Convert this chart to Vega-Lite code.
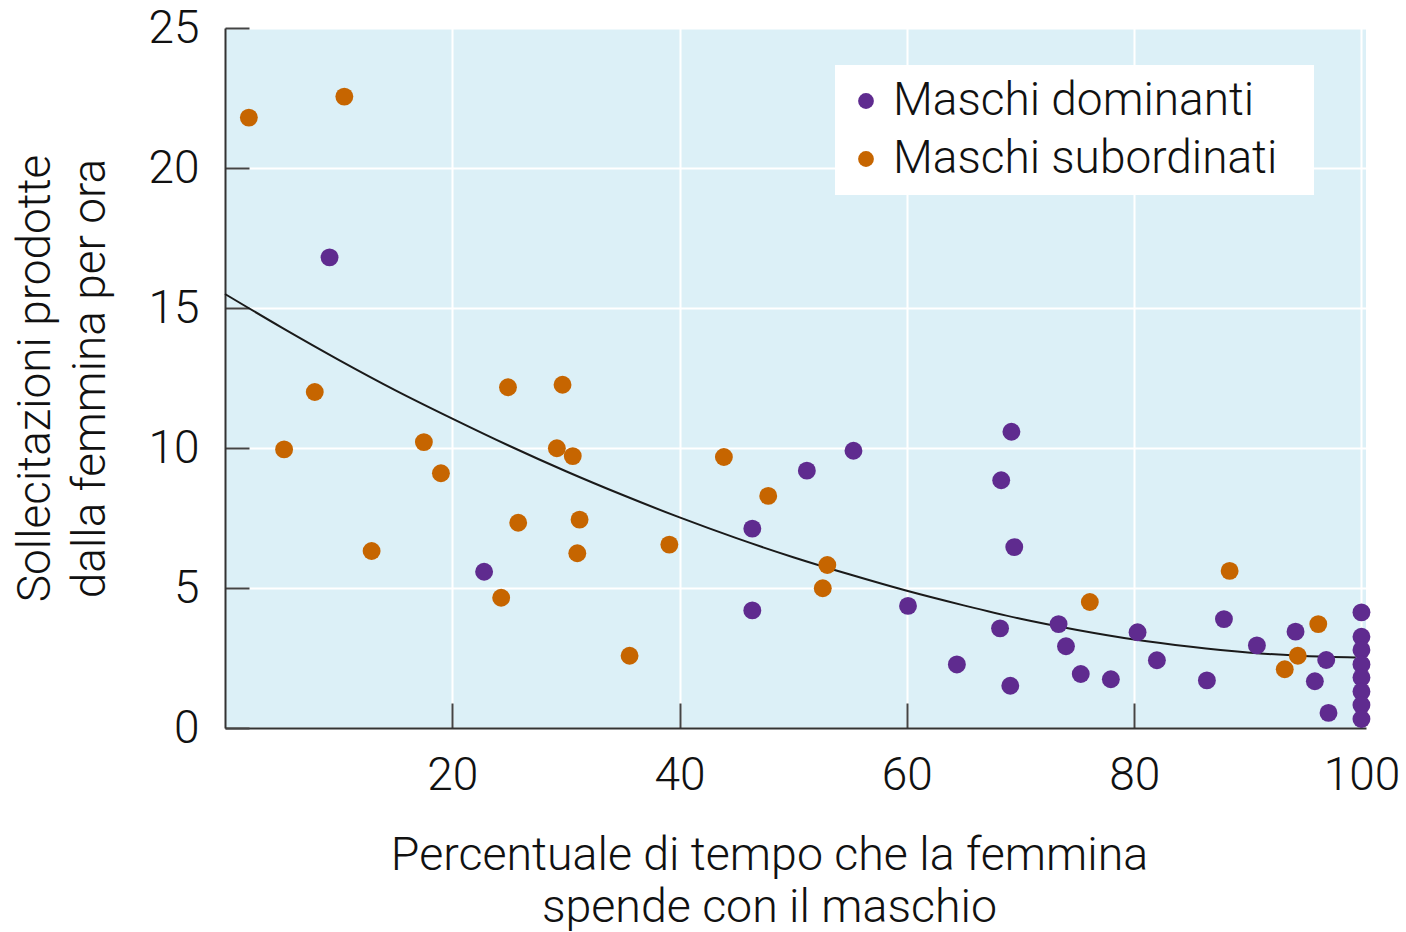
{
  "$schema": "https://vega.github.io/schema/vega-lite/v6.json",
  "width": 1141,
  "height": 700,
  "autosize": {"type": "none"},
  "padding": {"left": 225, "top": 28, "right": 40, "bottom": 204},
  "background": "#ffffff",
  "datasets": {
    "punti": [
      {"tempo": 2.1, "sollecitazioni": 21.8, "gruppo": "Maschi subordinati"},
      {"tempo": 10.5, "sollecitazioni": 22.55, "gruppo": "Maschi subordinati"},
      {"tempo": 7.9, "sollecitazioni": 12.0, "gruppo": "Maschi subordinati"},
      {"tempo": 5.2, "sollecitazioni": 9.95, "gruppo": "Maschi subordinati"},
      {"tempo": 24.9, "sollecitazioni": 12.17, "gruppo": "Maschi subordinati"},
      {"tempo": 29.7, "sollecitazioni": 12.26, "gruppo": "Maschi subordinati"},
      {"tempo": 17.5, "sollecitazioni": 10.21, "gruppo": "Maschi subordinati"},
      {"tempo": 19.0, "sollecitazioni": 9.1, "gruppo": "Maschi subordinati"},
      {"tempo": 29.2, "sollecitazioni": 9.99, "gruppo": "Maschi subordinati"},
      {"tempo": 30.6, "sollecitazioni": 9.71, "gruppo": "Maschi subordinati"},
      {"tempo": 25.8, "sollecitazioni": 7.33, "gruppo": "Maschi subordinati"},
      {"tempo": 31.2, "sollecitazioni": 7.44, "gruppo": "Maschi subordinati"},
      {"tempo": 31.0, "sollecitazioni": 6.24, "gruppo": "Maschi subordinati"},
      {"tempo": 12.9, "sollecitazioni": 6.32, "gruppo": "Maschi subordinati"},
      {"tempo": 24.3, "sollecitazioni": 4.65, "gruppo": "Maschi subordinati"},
      {"tempo": 35.6, "sollecitazioni": 2.58, "gruppo": "Maschi subordinati"},
      {"tempo": 39.1, "sollecitazioni": 6.55, "gruppo": "Maschi subordinati"},
      {"tempo": 43.9, "sollecitazioni": 9.68, "gruppo": "Maschi subordinati"},
      {"tempo": 47.8, "sollecitazioni": 8.29, "gruppo": "Maschi subordinati"},
      {"tempo": 53.0, "sollecitazioni": 5.82, "gruppo": "Maschi subordinati"},
      {"tempo": 52.6, "sollecitazioni": 4.99, "gruppo": "Maschi subordinati"},
      {"tempo": 76.1, "sollecitazioni": 4.5, "gruppo": "Maschi subordinati"},
      {"tempo": 88.4, "sollecitazioni": 5.61, "gruppo": "Maschi subordinati"},
      {"tempo": 96.2, "sollecitazioni": 3.71, "gruppo": "Maschi subordinati"},
      {"tempo": 94.4, "sollecitazioni": 2.58, "gruppo": "Maschi subordinati"},
      {"tempo": 93.25, "sollecitazioni": 2.1, "gruppo": "Maschi subordinati"},
      {"tempo": 9.2, "sollecitazioni": 16.81, "gruppo": "Maschi dominanti"},
      {"tempo": 22.8, "sollecitazioni": 5.58, "gruppo": "Maschi dominanti"},
      {"tempo": 51.2, "sollecitazioni": 9.19, "gruppo": "Maschi dominanti"},
      {"tempo": 55.3, "sollecitazioni": 9.9, "gruppo": "Maschi dominanti"},
      {"tempo": 46.4, "sollecitazioni": 7.12, "gruppo": "Maschi dominanti"},
      {"tempo": 46.4, "sollecitazioni": 4.2, "gruppo": "Maschi dominanti"},
      {"tempo": 60.1, "sollecitazioni": 4.36, "gruppo": "Maschi dominanti"},
      {"tempo": 69.2, "sollecitazioni": 10.58, "gruppo": "Maschi dominanti"},
      {"tempo": 68.3, "sollecitazioni": 8.85, "gruppo": "Maschi dominanti"},
      {"tempo": 69.45, "sollecitazioni": 6.46, "gruppo": "Maschi dominanti"},
      {"tempo": 68.2, "sollecitazioni": 3.56, "gruppo": "Maschi dominanti"},
      {"tempo": 64.4, "sollecitazioni": 2.27, "gruppo": "Maschi dominanti"},
      {"tempo": 69.1, "sollecitazioni": 1.51, "gruppo": "Maschi dominanti"},
      {"tempo": 73.35, "sollecitazioni": 3.71, "gruppo": "Maschi dominanti"},
      {"tempo": 74.0, "sollecitazioni": 2.92, "gruppo": "Maschi dominanti"},
      {"tempo": 75.3, "sollecitazioni": 1.93, "gruppo": "Maschi dominanti"},
      {"tempo": 77.95, "sollecitazioni": 1.74, "gruppo": "Maschi dominanti"},
      {"tempo": 80.3, "sollecitazioni": 3.42, "gruppo": "Maschi dominanti"},
      {"tempo": 82.0, "sollecitazioni": 2.42, "gruppo": "Maschi dominanti"},
      {"tempo": 86.4, "sollecitazioni": 1.7, "gruppo": "Maschi dominanti"},
      {"tempo": 87.9, "sollecitazioni": 3.89, "gruppo": "Maschi dominanti"},
      {"tempo": 90.8, "sollecitazioni": 2.95, "gruppo": "Maschi dominanti"},
      {"tempo": 94.2, "sollecitazioni": 3.44, "gruppo": "Maschi dominanti"},
      {"tempo": 96.9, "sollecitazioni": 2.43, "gruppo": "Maschi dominanti"},
      {"tempo": 95.9, "sollecitazioni": 1.67, "gruppo": "Maschi dominanti"},
      {"tempo": 97.1, "sollecitazioni": 0.54, "gruppo": "Maschi dominanti"},
      {"tempo": 100, "sollecitazioni": 4.13, "gruppo": "Maschi dominanti"},
      {"tempo": 100, "sollecitazioni": 3.26, "gruppo": "Maschi dominanti"},
      {"tempo": 100, "sollecitazioni": 2.79, "gruppo": "Maschi dominanti"},
      {"tempo": 100, "sollecitazioni": 2.27, "gruppo": "Maschi dominanti"},
      {"tempo": 100, "sollecitazioni": 1.8, "gruppo": "Maschi dominanti"},
      {"tempo": 100, "sollecitazioni": 1.3, "gruppo": "Maschi dominanti"},
      {"tempo": 100, "sollecitazioni": 0.82, "gruppo": "Maschi dominanti"},
      {"tempo": 100, "sollecitazioni": 0.32, "gruppo": "Maschi dominanti"}
    ],
    "curva": [
      {"tempo": 0, "sollecitazioni": 15.5},
      {"tempo": 5, "sollecitazioni": 14.3},
      {"tempo": 10, "sollecitazioni": 13.15},
      {"tempo": 15, "sollecitazioni": 12.06},
      {"tempo": 20, "sollecitazioni": 11.05},
      {"tempo": 25, "sollecitazioni": 10.08},
      {"tempo": 30, "sollecitazioni": 9.17},
      {"tempo": 35, "sollecitazioni": 8.32},
      {"tempo": 40, "sollecitazioni": 7.52},
      {"tempo": 45, "sollecitazioni": 6.78},
      {"tempo": 50, "sollecitazioni": 6.1},
      {"tempo": 55, "sollecitazioni": 5.48},
      {"tempo": 60, "sollecitazioni": 4.9},
      {"tempo": 65, "sollecitazioni": 4.38},
      {"tempo": 70, "sollecitazioni": 3.9},
      {"tempo": 75, "sollecitazioni": 3.5},
      {"tempo": 80, "sollecitazioni": 3.16},
      {"tempo": 85, "sollecitazioni": 2.9},
      {"tempo": 90, "sollecitazioni": 2.7},
      {"tempo": 95, "sollecitazioni": 2.57},
      {"tempo": 99.5, "sollecitazioni": 2.52}
    ]
  },
  "encoding": {
    "x": {
      "field": "tempo",
      "type": "quantitative",
      "scale": {"domain": [0, 100.4], "nice": false, "zero": false},
      "axis": {
        "values": [20, 40, 60, 80, 100],
        "tickSize": -25,
        "labelPadding": 50,
        "labelFontSize": 46,
        "title": ["Percentuale di tempo che la femmina", "spende con il maschio"],
        "titleFontSize": 46.5,
        "titleX": 544,
        "titleY": 127,
        "titleAlign": "center",
        "titleBaseline": "middle",
        "titleLineHeight": 52
      }
    },
    "y": {
      "field": "sollecitazioni",
      "type": "quantitative",
      "scale": {"domain": [0, 25], "nice": false, "zero": false},
      "axis": {
        "values": [0, 5, 10, 15, 20, 25],
        "tickSize": -24,
        "labelPadding": 50,
        "labelFontSize": 46,
        "title": ["Sollecitazioni prodotte", "dalla femmina per ora"],
        "titleFontSize": 46,
        "titleAngle": -90,
        "titleX": -190,
        "titleY": 350,
        "titleAlign": "center",
        "titleBaseline": "middle",
        "titleLineHeight": 55
      }
    }
  },
  "layer": [
    {
      "data": {"name": "curva"},
      "mark": {"type": "line", "color": "#1a1a1a", "strokeWidth": 2, "interpolate": "monotone"}
    },
    {
      "data": {"name": "punti"},
      "mark": {"type": "point", "filled": true, "size": 320, "opacity": 1, "strokeWidth": 0},
      "encoding": {
        "color": {
          "field": "gruppo",
          "type": "nominal",
          "scale": {"domain": ["Maschi dominanti", "Maschi subordinati"], "range": ["#5f2b8f", "#c66500"]},
          "legend": {
            "orient": "none",
            "legendX": 610,
            "legendY": 37,
            "title": " ",
            "titleOrient": "right",
            "titlePadding": 24,
            "titleFontSize": 2,
            "fillColor": "#ffffff",
            "padding": 13,
            "symbolOffset": -5,
            "labelOffset": 4,
            "rowPadding": 12,
            "symbolSize": 250,
            "symbolType": "circle",
            "symbolStrokeWidth": 0,
            "labelFontSize": 46,
            "labelLimit": 700,
            "labelFont": "Roboto",
            "labelFontWeight": 300,
            "labelColor": "#111111"
          }
        }
      }
    }
  ],
  "config": {
    "font": "Roboto",
    "view": {"fill": "#dcf0f7", "stroke": null},
    "axis": {
      "labelFont": "Roboto",
      "labelFontWeight": 300,
      "labelColor": "#111111",
      "titleFont": "Roboto",
      "titleFontWeight": 300,
      "titleColor": "#111111",
      "domainColor": "#333333",
      "domainWidth": 2,
      "tickColor": "#444444",
      "tickWidth": 2,
      "gridColor": "#ffffff",
      "gridWidth": 2,
      "gridOpacity": 1
    }
  }
}
